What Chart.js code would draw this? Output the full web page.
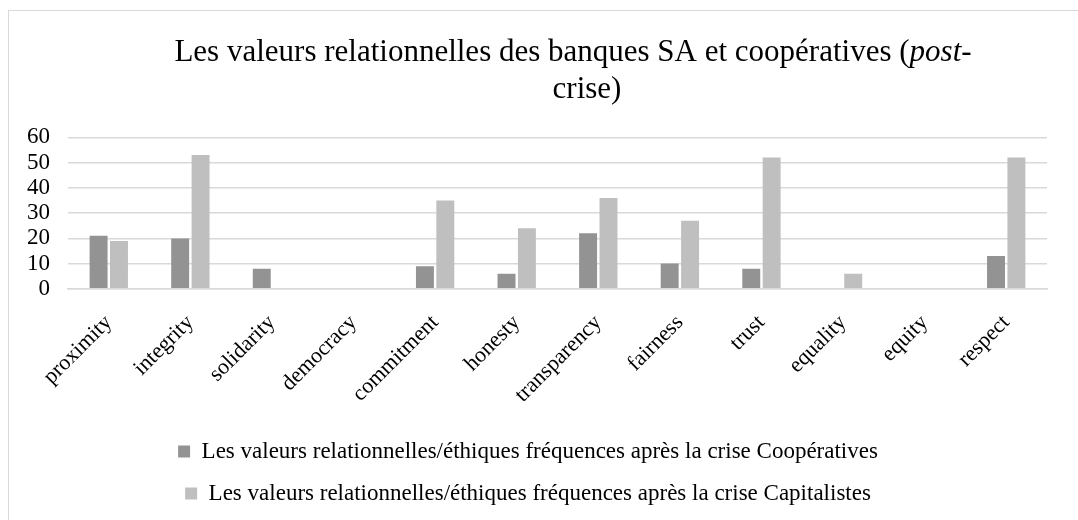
<!DOCTYPE html>
<html>
<head>
<meta charset="utf-8">
<script src="https://cdn.jsdelivr.net/npm/chart.js@4.4.1/dist/chart.umd.min.js"></script>
<style>
  html, body { margin: 0; padding: 0; background: #fff; overflow: hidden; }
  .frame {
    position: absolute; left: 8px; top: 10px;
    width: 1100px; height: 540px;
    border: 1px solid #d9d9d9;
  }
  .wrap { position: absolute; left: 0; top: 0; width: 1069px; height: 509px; }
</style>
</head>
<body>
<div class="frame">
  <div class="wrap"><canvas id="chart"></canvas></div>
</div>
<script>
// values
const categories = ['proximity', 'integrity', 'solidarity', 'democracy', 'commitment', 'honesty',
  'transparency', 'fairness', 'trust', 'equality', 'equity', 'respect'];
const cooperatives = [21, 20, 8, 0, 9, 6, 22, 10, 8, 0, 0, 13];
const capitalistes = [19, 53, 0, 0, 35, 24, 36, 27, 52, 6, 0, 52];
const seriesNames = [
  'Les valeurs relationnelles/éthiques fréquences après la crise Coopératives',
  'Les valeurs relationnelles/éthiques fréquences après la crise Capitalistes'
];
const titleLines = ['Les valeurs relationnelles des banques SA et coopératives (post-', 'crise)'];

const serif = '"Liberation Serif", "Times New Roman", serif';

// draws the title by hand so "post" can be italic
const richTitle = {
  id: 'richTitle',
  afterDraw(chart) {
    const ctx = chart.ctx;
    const top = chart.titleBlock.top;
    ctx.save();
    ctx.fillStyle = '#000';
    ctx.textBaseline = 'alphabetic';
    const parts = [
      { t: 'Les valeurs relationnelles des banques SA et coopératives (', it: false },
      { t: 'post', it: true },
      { t: '-', it: false }
    ];
    let w = 0;
    parts.forEach(p => {
      ctx.font = (p.it ? 'italic ' : '') + '31px ' + serif;
      p.w = ctx.measureText(p.t).width;
      w += p.w;
    });
    let x = 564 - w / 2;
    parts.forEach(p => {
      ctx.font = (p.it ? 'italic ' : '') + '31px ' + serif;
      ctx.fillText(p.t, x, top + 36);
      x += p.w;
    });
    ctx.font = '31px ' + serif;
    ctx.textAlign = 'center';
    ctx.fillText(titleLines[1], 578, top + 73);
    ctx.restore();
  }
};

new Chart(document.getElementById('chart'), {
  type: 'bar',
  data: {
    labels: categories,
    datasets: [
      { label: seriesNames[0], data: cooperatives, backgroundColor: '#939393' },
      { label: seriesNames[1], data: capitalistes, backgroundColor: '#bfbfbf' }
    ]
  },
  options: {
    responsive: true,
    maintainAspectRatio: false,
    animation: false,
    datasets: { bar: { categoryPercentage: 0.5, barPercentage: 0.88 } },
    layout: { padding: { left: 0, right: 31, top: 14, bottom: 5 } },
    plugins: {
      title: {
        display: true,
        text: titleLines,
        color: 'rgba(0,0,0,0)',
        font: { family: serif, size: 24, weight: 'normal', lineHeight: 1.55 },
        padding: { top: 8, bottom: 30 }
      },
      legend: {
        position: 'bottom',
        labels: {
          color: '#000',
          font: { family: serif, size: 23 },
          boxWidth: 12,
          boxHeight: 12,
          padding: 19
        }
      },
      tooltip: { enabled: false }
    },
    scales: {
      x: {
        grid: { display: false },
        border: { color: '#d9d9d9', width: 1.5 },
        ticks: {
          color: '#000',
          font: { family: serif, size: 22 },
          minRotation: 45,
          maxRotation: 45,
          padding: 13
        }
      },
      y: {
        min: 0,
        max: 60,
        grid: { color: '#d9d9d9', lineWidth: 1.5, drawTicks: false },
        border: { display: false },
        ticks: {
          stepSize: 10,
          autoSkip: false,
          color: '#000',
          font: { family: serif, size: 23 },
          padding: 18
        }
      }
    }
  },
  plugins: [richTitle]
});
</script>
</body>
</html>
